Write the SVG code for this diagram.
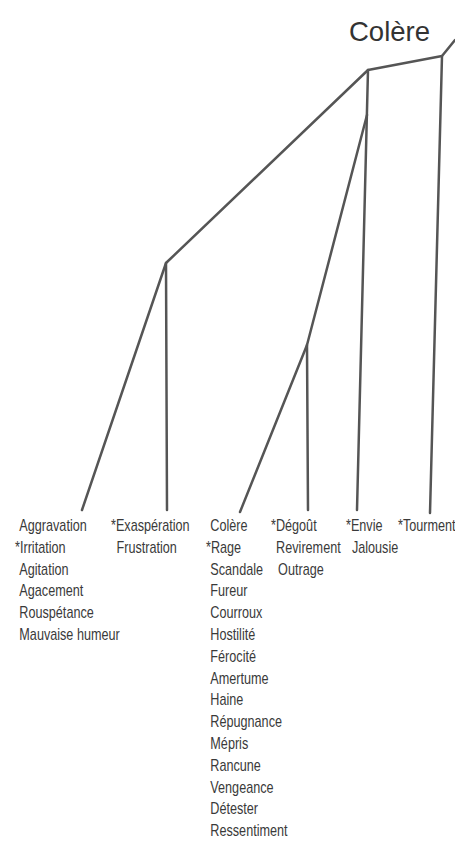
<svg xmlns="http://www.w3.org/2000/svg" width="455" height="847" viewBox="0 0 455 847">
<style>
.ln{stroke:#555;stroke-width:2.5;fill:none;stroke-linecap:round;stroke-linejoin:round}
.lbl{font-family:"Liberation Sans",Arial,sans-serif;font-size:16px;fill:#3a3a3a}
.ttl{font-family:"Liberation Sans",Arial,sans-serif;font-size:27.5px;fill:#333}
</style>
<rect width="455" height="847" fill="#fff"/>
<g id="connectors">
<path class="ln" d="M455,40 L442,56 L368,70 L166,263 L82,510"/>
<path class="ln" d="M166,263 L167,510"/>
<path class="ln" d="M368,70 L357,510"/>
<path class="ln" d="M367,115 L307,345 L240,512"/>
<path class="ln" d="M307,345 L308,510"/>
<path class="ln" d="M442,56 L430,513"/>
</g>
<g id="root"><text class="ttl" x="349" y="40.5">Colère</text></g>
<g id="aggravation" transform="translate(15 0) scale(0.79 1)">
<text class="lbl"><tspan x="5.5" y="531">Aggravation</tspan><tspan x="0" y="552.8">*Irritation</tspan><tspan x="5.5" y="574.6">Agitation</tspan><tspan x="5.5" y="596.4">Agacement</tspan><tspan x="5.5" y="618.2">Rouspétance</tspan><tspan x="5.5" y="640">Mauvaise humeur</tspan></text>
</g>
<g id="exasperation" transform="translate(111 0) scale(0.79 1)">
<text class="lbl"><tspan x="0" y="531">*Exaspération</tspan><tspan x="7" y="552.8">Frustration</tspan></text>
</g>
<g id="colere" transform="translate(206 0) scale(0.79 1)">
<text class="lbl"><tspan x="5.5" y="531">Colère</tspan><tspan x="0" y="552.8">*Rage</tspan><tspan x="5.5" y="574.6">Scandale</tspan><tspan x="5.5" y="596.4">Fureur</tspan><tspan x="5.5" y="618.2">Courroux</tspan><tspan x="5.5" y="640">Hostilité</tspan><tspan x="5.5" y="661.8">Férocité</tspan><tspan x="5.5" y="683.6">Amertume</tspan><tspan x="5.5" y="705.4">Haine</tspan><tspan x="5.5" y="727.2">Répugnance</tspan><tspan x="5.5" y="749">Mépris</tspan><tspan x="5.5" y="770.8">Rancune</tspan><tspan x="5.5" y="792.6">Vengeance</tspan><tspan x="5.5" y="814.4">Détester</tspan><tspan x="5.5" y="836.2">Ressentiment</tspan></text>
</g>
<g id="degout" transform="translate(271 0) scale(0.79 1)">
<text class="lbl"><tspan x="0" y="531">*Dégoût</tspan><tspan x="6.5" y="552.8">Revirement</tspan><tspan x="9" y="574.6">Outrage</tspan></text>
</g>
<g id="envie" transform="translate(346 0) scale(0.79 1)">
<text class="lbl"><tspan x="0" y="531">*Envie</tspan><tspan x="7.5" y="552.8">Jalousie</tspan></text>
</g>
<g id="tourment" transform="translate(398 0) scale(0.79 1)">
<text class="lbl"><tspan x="0" y="531">*Tourment</tspan></text>
</g>
</svg>
